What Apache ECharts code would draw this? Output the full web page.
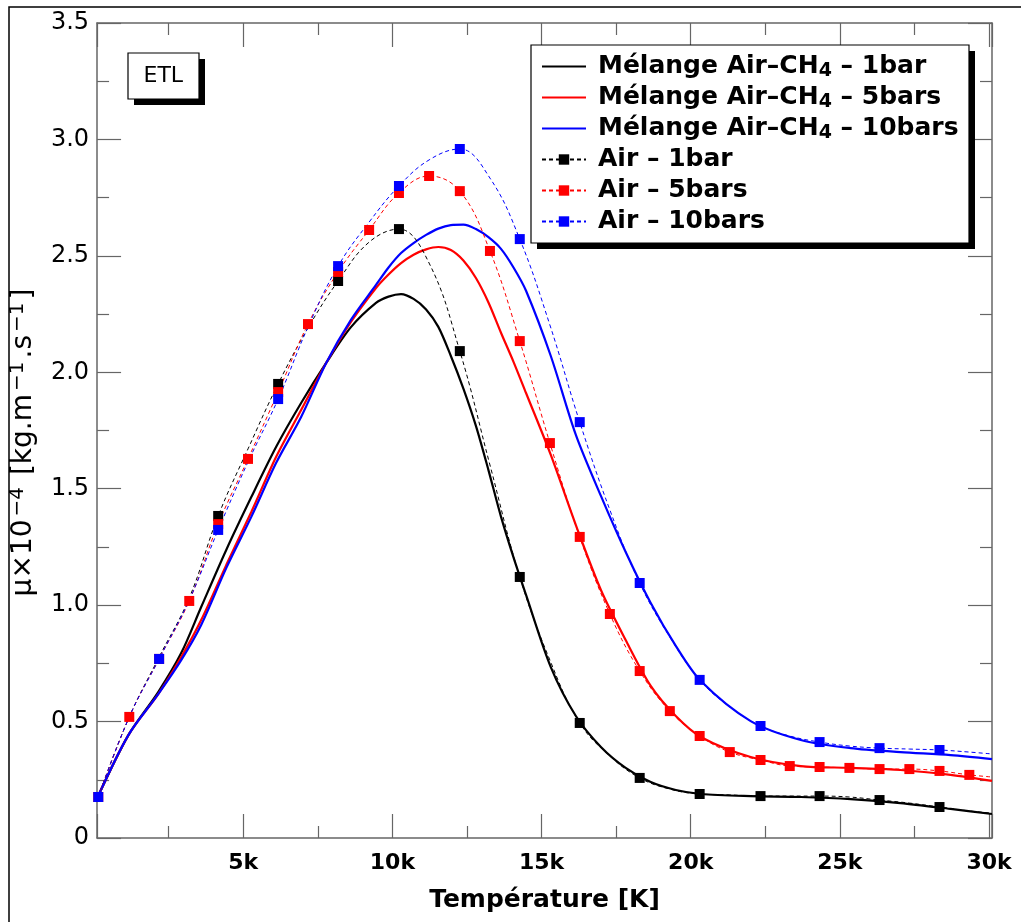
<!DOCTYPE html>
<html><head><meta charset="utf-8">
<script src="https://cdn.jsdelivr.net/npm/echarts@6/dist/echarts.min.js"></script>
<style>html,body{margin:0;padding:0;background:#fff}#c{width:1021px;height:922px}</style>
</head><body><div id="c"></div>
<script>
// Temperatures (K) for the mixture curves
const mixT = [120, 1150, 2150, 2920, 3590, 4430, 5270, 6100, 6940, 7780, 8610, 9450, 9870, 10290, 10710, 11130, 11540, 11960, 12380, 12800, 13220, 13640, 14060, 14480, 15310, 16150, 16990, 17820, 18660, 19500, 20340, 22010, 23690, 25360, 27030, 28710, 30100];
const mix1 = [0.176, 0.442, 0.627, 0.794, 0.992, 1.237, 1.464, 1.679, 1.868, 2.040, 2.194, 2.298, 2.325, 2.336, 2.315, 2.270, 2.195, 2.070, 1.930, 1.770, 1.580, 1.380, 1.205, 1.044, 0.734, 0.524, 0.391, 0.301, 0.240, 0.206, 0.189, 0.180, 0.176, 0.167, 0.150, 0.125, 0.103];
const mix5 = [0.176, 0.442, 0.618, 0.777, 0.936, 1.172, 1.400, 1.636, 1.838, 2.040, 2.216, 2.362, 2.420, 2.469, 2.505, 2.528, 2.538, 2.525, 2.480, 2.405, 2.300, 2.170, 2.045, 1.911, 1.645, 1.344, 1.065, 0.850, 0.653, 0.524, 0.434, 0.348, 0.309, 0.301, 0.292, 0.271, 0.245];
const mix10 = [0.176, 0.442, 0.618, 0.764, 0.915, 1.159, 1.379, 1.610, 1.808, 2.040, 2.225, 2.375, 2.450, 2.512, 2.555, 2.590, 2.617, 2.632, 2.634, 2.615, 2.580, 2.530, 2.450, 2.350, 2.070, 1.731, 1.469, 1.228, 1.009, 0.825, 0.674, 0.502, 0.421, 0.386, 0.369, 0.356, 0.339];

// Temperatures (K) for the air curves
const airT = [140, 1180, 2180, 3190, 4160, 5160, 6170, 7170, 8180, 9220, 10220, 11230, 12260, 13270, 14270, 15280, 16280, 17290, 18290, 19300, 20300, 21310, 22340, 23320, 24320, 25320, 26330, 27330, 28340, 29340, 30100];
const air1 = [0.176, 0.520, 0.777, 1.031, 1.383, 1.671, 1.950, 2.190, 2.392, 2.559, 2.615, 2.469, 2.091, 1.602, 1.121, 0.764, 0.494, 0.352, 0.258, 0.210, 0.189, 0.185, 0.180, 0.180, 0.180, 0.176, 0.163, 0.150, 0.133, 0.116, 0.107];
const air5 = [0.176, 0.520, 0.769, 1.018, 1.348, 1.628, 1.915, 2.207, 2.431, 2.611, 2.770, 2.843, 2.778, 2.521, 2.134, 1.696, 1.293, 0.962, 0.717, 0.545, 0.438, 0.369, 0.335, 0.309, 0.305, 0.301, 0.296, 0.296, 0.288, 0.271, 0.262];
const air10 = [0.176, 0.520, 0.769, 1.022, 1.323, 1.615, 1.885, 2.194, 2.456, 2.645, 2.800, 2.912, 2.959, 2.834, 2.572, 2.203, 1.786, 1.409, 1.095, 0.863, 0.679, 0.563, 0.481, 0.438, 0.412, 0.395, 0.386, 0.382, 0.378, 0.369, 0.361];
// which air points carry a marker
const air1Marks  = [0,0,0,0,1,0,1,0,1,0,1,0,1,0,1,0,1,0,1,0,1,0,1,0,1,0,1,0,1,0,0];
const air5Marks  = [1,1,1,1,1,1,1,1,1,1,1,1,1,1,1,1,1,1,1,1,1,1,1,1,1,1,1,1,1,1,0];
const air10Marks = [1,0,1,0,1,0,1,0,1,0,1,0,1,0,1,0,1,0,1,0,1,0,1,0,1,0,1,0,1,0,0];

const seriesNames = ['Mélange Air–CH₄ – 1bar', 'Mélange Air–CH₄ – 5bars', 'Mélange Air–CH₄ – 10bars', 'Air – 1bar', 'Air – 5bars', 'Air – 10bars'];
const xTickLabels = ['', '5k', '10k', '15k', '20k', '25k', '30k'];
const yTickLabels = ['0', '0.5', '1.0', '1.5', '2.0', '2.5', '3.0', '3.5'];

const axisColor = '#666';

function mixSeries(name, vals, color) {
  return {
    name, type: 'line', smooth: 0.3, symbol: 'none', z: 2,
    data: mixT.map((t, i) => [t, vals[i]]),
    lineStyle: { color, width: 2.2 }, itemStyle: { color }
  };
}
function airSeries(name, vals, marks, color) {
  return {
    name, type: 'line', smooth: 0.4, symbol: 'rect', symbolSize: 10, showAllSymbol: true, z: 3,
    data: airT.map((t, i) => ({ value: [t, vals[i]], symbol: marks[i] ? 'rect' : 'none' })),
    lineStyle: { color, width: 1, type: [4, 3] }, itemStyle: { color }
  };
}

function xLabel(v) {
  return (v % 5000 === 0) ? xTickLabels[v / 5000] : '';
}
function xAxis(pos, labels) {
  return {
    type: 'value', min: 100, max: 30100, splitNumber: 6, position: pos,
    axisLine: { onZero: false, lineStyle: { color: axisColor, width: 1.5 } },
    axisTick: { inside: true, length: 24, lineStyle: { color: axisColor, width: 1.2 } },
    minorTick: { show: true, splitNumber: 2, length: 12, lineStyle: { color: axisColor, width: 1.2 } },
    splitLine: { show: false },
    axisLabel: labels ? {
      margin: 14, fontSize: 22, fontWeight: 'bold', fontFamily: 'DejaVu Sans', color: '#000',
      formatter: xLabel, showMinLabel: false, showMaxLabel: false
    } : { show: false }
  };
}
function yAxis(pos, labels) {
  return {
    type: 'value', min: 0, max: 3.5, interval: 0.5, position: pos,
    axisLine: { onZero: false, lineStyle: { color: axisColor, width: 1.5 } },
    axisTick: { inside: true, length: 24, lineStyle: { color: axisColor, width: 1.2 } },
    minorTick: { show: true, splitNumber: 2, length: 12, lineStyle: { color: axisColor, width: 1.2 } },
    splitLine: { show: false },
    axisLabel: labels ? {
      margin: 8, fontSize: 24, fontFamily: 'DejaVu Sans', color: '#000',
      formatter: v => yTickLabels[Math.round(v / 0.5)]
    } : { show: false }
  };
}

const chart = echarts.init(document.getElementById('c'), null, { renderer: 'canvas' });
const xb = xAxis('bottom', true);
xb.name = 'Température [K]';
xb.nameLocation = 'middle';
xb.nameGap = 50;
xb.nameTextStyle = { fontSize: 25, fontWeight: 'bold', fontFamily: 'DejaVu Sans', color: '#000' };
const yl = yAxis('left', true);
yl.name = '{a|μ×10}{s|−4}{a| [kg.m}{s|−1}{a|.s}{s|−1}{a|]}';
yl.nameLocation = 'middle';
yl.nameGap = 53;
yl.nameTextStyle = {
  padding: [0, 24, 0, 0],
  rich: {
    a: { fontSize: 28, fontFamily: 'DejaVu Sans', color: '#000', lineHeight: 32 },
    s: { fontSize: 20, fontFamily: 'DejaVu Sans', color: '#000', lineHeight: 20, padding: [0, 3, 12, 3] }
  }
};

const legendData = seriesNames.map((n, i) => i < 3 ? { name: n, itemStyle: { opacity: 0 } } : { name: n });

chart.setOption({
  animation: false,
  backgroundColor: '#fff',
  grid: { left: 96, top: 23, right: 29, bottom: 84, containLabel: false },
  title: {
    text: 'ETL', left: 143.5, top: 63, padding: 0, z: 20,
    textStyle: { fontFamily: 'DejaVu Sans', fontWeight: 'normal', fontSize: 22, color: '#000', lineHeight: 26 }
  },
  legend: {
    orient: 'vertical', left: 541, top: 51, z: 20,
    data: legendData,
    itemWidth: 44, itemHeight: 13, itemGap: 0,
    padding: 0,
    formatter: name => name.replace('₄', '{sub|4}'),
    textStyle: {
      fontFamily: 'DejaVu Sans', fontWeight: 'bold', fontSize: 25, color: '#000', lineHeight: 31, padding: [0, 0, 0, 7],
      rich: { sub: { fontFamily: 'DejaVu Sans', fontWeight: 'bold', fontSize: 19, color: '#000', lineHeight: 19, padding: [10, 0, 0, 0] } }
    }
  },
  graphic: [
    { type: 'rect', silent: true, z: -1, shape: { x: 9, y: 7, width: 1100, height: 1000 },
      style: { fill: null, stroke: '#000', lineWidth: 1.5 } },
    { type: 'rect', silent: true, z: 10, shape: { x: 537, y: 51, width: 438, height: 198 }, style: { fill: '#000' } },
    { type: 'rect', silent: true, z: 11, shape: { x: 531, y: 45, width: 438, height: 198 }, style: { fill: '#fff', stroke: '#000', lineWidth: 1.2 } },
    { type: 'rect', silent: true, z: 10, shape: { x: 134, y: 59, width: 71, height: 46 }, style: { fill: '#000' } },
    { type: 'rect', silent: true, z: 11, shape: { x: 128, y: 53, width: 71, height: 46 }, style: { fill: '#fff', stroke: '#000', lineWidth: 1.2 } }
  ],
  xAxis: [xb, xAxis('top', false)],
  yAxis: [yl, yAxis('right', false)],
  series: [
    mixSeries(seriesNames[0], mix1, '#000000'),
    mixSeries(seriesNames[1], mix5, '#ff0000'),
    mixSeries(seriesNames[2], mix10, '#0000ff'),
    airSeries(seriesNames[3], air1, air1Marks, '#000000'),
    airSeries(seriesNames[4], air5, air5Marks, '#ff0000'),
    airSeries(seriesNames[5], air10, air10Marks, '#0000ff')
  ]
});
</script></body></html>
